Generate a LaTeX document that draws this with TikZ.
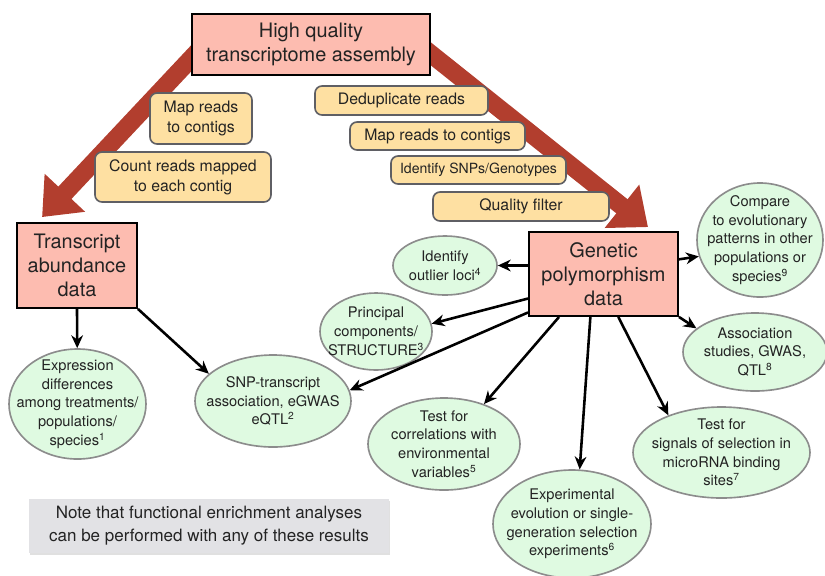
\documentclass[tikz,border=0pt]{standalone}
\usepackage{fontspec}
\setmainfont{TeX Gyre Heros}
\usetikzlibrary{arrows.meta,shapes.geometric,shadows,backgrounds}

\definecolor{boxpink}{RGB}{253,188,176}
\definecolor{stepyellow}{RGB}{254,224,162}
\definecolor{stepgray}{RGB}{95,95,100}
\definecolor{ellgreen}{RGB}{223,250,225}
\definecolor{ellgray}{RGB}{140,140,140}
\definecolor{flowred}{RGB}{178,62,46}
\definecolor{notegray}{RGB}{226,226,229}
\definecolor{txt}{RGB}{35,35,35}

\tikzset{
  databox/.style={draw=black, line width=1.6pt, fill=boxpink, align=center, text=txt, font=\fontsize{17}{20.5}\selectfont},
  stepbox/.style={draw=stepgray, line width=1.4pt, fill=stepyellow, rounded corners=6pt, align=center, text=txt, font=\fontsize{13.5}{17}\selectfont},
  result/.style={ellipse, draw=ellgray, line width=1.4pt, fill=ellgreen, inner sep=0pt},
  restext/.style={align=center, text=txt, font=\fontsize{12.5}{16}\selectfont},
  link/.style={line width=2.2pt, -{Stealth[length=11pt, width=10pt]}},
  flow/.style={draw=flowred, line width=0.54cm, -{Triangle[length=1cm, width=1.6cm]}},
}

\begin{document}
\begin{tikzpicture}[x=0.03cm, y=-0.03cm]
\useasboundingbox (0,0) rectangle (825,575);

% data boxes
\node[databox, minimum width=7.14cm, minimum height=1.83cm] (hq) at (311,44.5) {High quality\\transcriptome assembly};
\node[databox, minimum width=3.6cm, minimum height=2.55cm] (tab) at (77,265.5) {Transcript\\abundance\\data};
\node[databox, minimum width=4.47cm, minimum height=2.52cm] (gen) at (603.5,274) {Genetic\\polymorphism\\data};

% processing steps
\node[stepbox, minimum width=3.06cm, minimum height=1.53cm] (mapc) at (201,118.5) {Map reads\\to contigs};
\node[stepbox, minimum width=5.28cm, minimum height=1.5cm] (count) at (183,177) {Count reads mapped\\to each contig};
\node[stepbox, minimum width=5.19cm, minimum height=0.87cm] (dedup) at (401.5,100.5) {Deduplicate reads};
\node[stepbox, minimum width=5.25cm, minimum height=0.84cm] (mapr) at (437.5,136) {Map reads to contigs};
\node[stepbox, minimum width=5.25cm, minimum height=0.84cm, font=\fontsize{12}{14}\selectfont] (snps) at (478.5,170) {Identify SNPs/Genotypes};
\node[stepbox, minimum width=5.28cm, minimum height=0.87cm] (qual) at (521,206.5) {Quality filter};

% results
\node[result, minimum width=4.11cm, minimum height=3.3cm] (expr) at (77.5,404) {};
\node[restext] (expr-t) at (expr) {Expression\\differences\\among treatments/\\populations/\\species\textsuperscript{1}};
\node[result, minimum width=4.68cm, minimum height=2.76cm] (snptr) at (273,401) {};
\node[restext] (snptr-t) at (snptr) {SNP-transcript\\association, eGWAS\\eQTL\textsuperscript{2}};
\node[result, minimum width=3.36cm, minimum height=2.31cm] (pca) at (376,331.5) {};
\node[restext] (pca-t) at (pca) {Principal\\components/\\STRUCTURE\textsuperscript{3}};
\node[result, minimum width=3.12cm, minimum height=1.77cm] (outlier) at (445,265.5) {};
\node[restext] (outlier-t) at (outlier) {Identify\\outlier loci\textsuperscript{4}};
\node[result, minimum width=4.56cm, minimum height=2.76cm] (corr) at (444,444) {};
\node[restext] (corr-t) at (corr) {Test for\\correlations with\\environmental\\variables\textsuperscript{5}};
\node[result, minimum width=4.74cm, minimum height=3.24cm] (exper) at (572,524) {};
\node[restext] (exper-t) at (exper) {Experimental\\evolution or single-\\generation selection\\experiments\textsuperscript{6}};
\node[result, minimum width=5.31cm, minimum height=2.73cm] (sig) at (721.5,452.5) {};
\node[restext] (sig-t) at (sig) {Test for\\signals of selection in\\microRNA binding\\sites\textsuperscript{7}};
\node[result, minimum width=4.32cm, minimum height=2.34cm] (assoc) at (755,352) {};
\node[restext] (assoc-t) at (assoc) {Association\\studies, GWAS,\\QTL\textsuperscript{8}};
\node[result, minimum width=3.78cm, minimum height=3.42cm] (comp) at (760,240) {};
\node[restext] (comp-t) at (comp) {Compare\\to evolutionary\\patterns in other\\populations or\\species\textsuperscript{9}};

% note
\node[fill=notegray, minimum width=10.8cm, minimum height=1.62cm, align=center, text=txt,
  font=\fontsize{14.5}{19.5}\selectfont,
  drop shadow={shadow xshift=0.5pt, shadow yshift=-2pt, opacity=0.3, fill=black!40}] (note) at (209,526)
  {Note that functional enrichment analyses\\can be performed with any of these results};

% big arrows behind the boxes
\begin{scope}[on background layer]
\draw[flow] ([shift={(23,-10.5)}]hq.west) -- ([shift={(26,-5)}]tab.north west);
\draw[flow] ([shift={(-15,-2.5)}]hq.east) -- ([shift={(44.5,-4)}]gen.north);
\end{scope}

% analyses
\draw[link] (tab.south) -- (expr);
\draw[link] (tab.south east) -- (snptr.157);
\draw[link] (gen.west |- outlier) -- (outlier);
\draw[link] (gen.198) -- (pca.8);
\draw[link] (gen.207) -- (snptr.8);
\draw[link] (gen.224) -- (corr.45);
\draw[link] (gen.253) -- (exper.82);
\draw[link] (gen.289) -- (sig.145);
\draw[link] (gen.south east) -- (assoc.158);
\draw[link] (gen.11) -- (comp.195);
\end{tikzpicture}
\end{document}
